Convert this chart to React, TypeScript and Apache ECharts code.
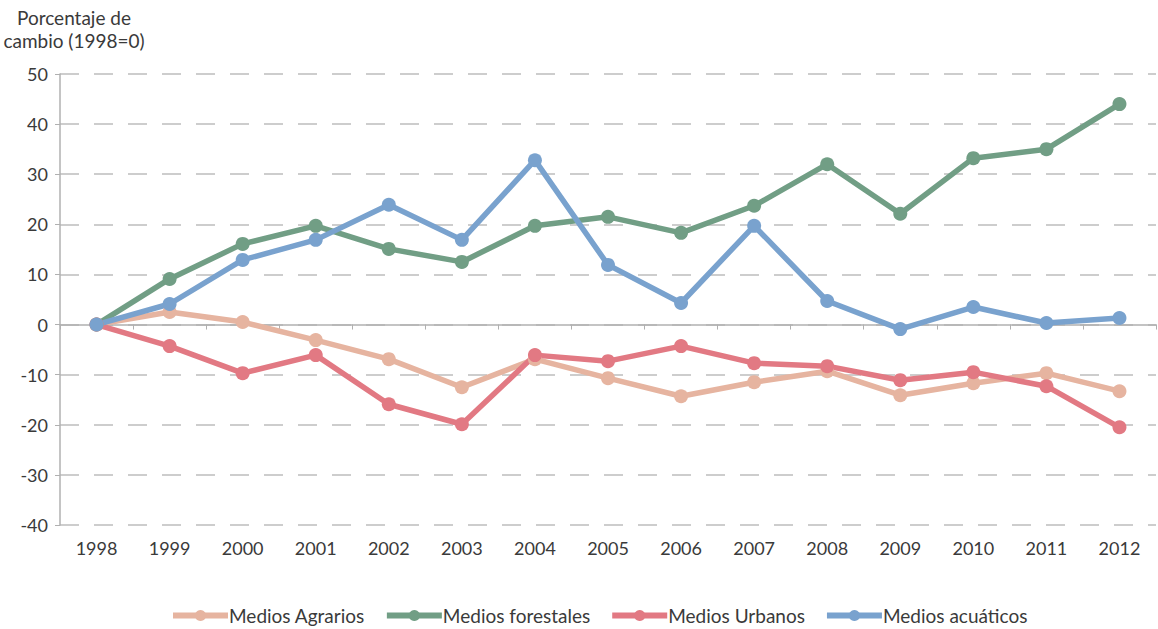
import React, { useEffect, useRef } from "react";
import * as echarts from "echarts";

const years = ["1998","1999","2000","2001","2002","2003","2004","2005","2006","2007","2008","2009","2010","2011","2012"];
const agrarios = [0, 2.5, 0.5, -3.1, -6.9, -12.5, -6.9, -10.7, -14.3, -11.5, -9.3, -14.1, -11.7, -9.7, -13.3];
const forestales = [0, 9.1, 16.1, 19.7, 15.1, 12.5, 19.7, 21.5, 18.3, 23.7, 32.0, 22.1, 33.2, 35.0, 44.0];
const urbanos = [0, -4.3, -9.7, -6.1, -15.9, -19.9, -6.1, -7.3, -4.3, -7.7, -8.3, -11.1, -9.5, -12.3, -20.5];
const acuaticos = [0, 4.1, 12.9, 16.9, 23.9, 16.9, 32.8, 11.9, 4.3, 19.7, 4.7, -0.9, 3.5, 0.3, 1.3];

const seriesDefs = [
  { name: "Medios Agrarios", data: agrarios, color: "#E6B4A0" },
  { name: "Medios forestales", data: forestales, color: "#719E85" },
  { name: "Medios Urbanos", data: urbanos, color: "#E27983" },
  { name: "Medios acuáticos", data: acuaticos, color: "#79A2CE" },
];

const FONT = "Lato, 'Noto Sans', sans-serif";
const TXT = "#3a3a3a";

export default function App() {
  const ref = useRef<HTMLDivElement>(null);
  useEffect(() => {
    if (!ref.current) return;
    const chart = echarts.init(ref.current, undefined, { renderer: "svg" });
    chart.setOption({
      animation: false,
      textStyle: { fontFamily: FONT },
      graphic: [
        {
          type: "text",
          x: 74,
          y: 6,
          style: {
            text: "Porcentaje de\ncambio (1998=0)",
            fill: TXT,
            font: `19px ${FONT}`,
            lineHeight: 23,
            align: "center",
            verticalAlign: "top",
          },
        },
      ],
      grid: { left: 60, right: 2, top: 74, bottom: 104, containLabel: false },
      legend: {
        bottom: 4,
        left: 170,
        padding: 0,
        itemWidth: 55,
        itemHeight: 14,
        itemGap: 19,
        lineStyle: { width: 6 },
        textStyle: { fontSize: 19, color: TXT, fontFamily: FONT, padding: [0, 0, 0, -4] },
        data: seriesDefs.map((s) => s.name),
      },
      xAxis: {
        type: "category",
        data: years,
        boundaryGap: true,
        axisLine: { lineStyle: { color: "#B0B0B0", width: 1.5 } },
        axisTick: { show: true, length: 5, lineStyle: { color: "#B0B0B0" } },
        axisLabel: { fontSize: 18, color: TXT, margin: 14, fontFamily: FONT },
      },
      yAxis: {
        type: "value",
        min: -40,
        max: 50,
        interval: 10,
        axisLine: { show: true, lineStyle: { color: "#B0B0B0", width: 1.5 } },
        axisTick: { show: true, length: 5, lineStyle: { color: "#B0B0B0" } },
        axisLabel: { fontSize: 18, color: TXT, margin: 12, fontFamily: FONT },
        splitLine: {
          show: true,
          lineStyle: { color: "#BDBDBD", width: 1.5, type: [19, 15] },
        },
      },
      series: seriesDefs.map((s) => ({
        name: s.name,
        type: "line",
        data: s.data,
        symbol: "circle",
        symbolSize: 14,
        color: s.color,
        lineStyle: { width: 5.5, color: s.color },
        itemStyle: { color: s.color },
      })),
    });
    return () => chart.dispose();
  }, []);
  return (
    <div
      ref={ref}
      style={{ position: "fixed", left: 0, top: 0, width: 1158, height: 629, background: "#fff" }}
    />
  );
}
